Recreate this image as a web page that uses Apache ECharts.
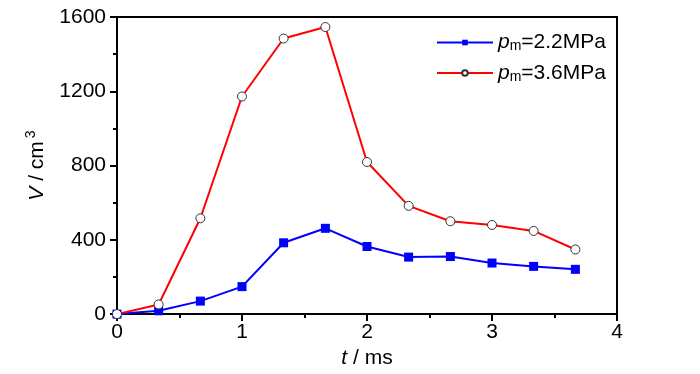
<!DOCTYPE html>
<html>
<head>
<meta charset="utf-8">
<script src="https://cdn.jsdelivr.net/npm/echarts@6/dist/echarts.min.js"></script>
<style>html,body{margin:0;padding:0;background:#fff}#c{width:700px;height:374px}</style>
</head>
<body>
<div id="c"></div>
<script>
var tValues = [0, 0.333, 0.667, 1, 1.333, 1.667, 2, 2.333, 2.667, 3, 3.333, 3.667];
var v22 = [0, 18, 70, 148, 384, 462, 364, 307, 310, 275, 257, 241];
var v36 = [0, 52, 516, 1172, 1484, 1546, 819, 583, 500, 480, 448, 348];
var seriesNames = ['pm=2.2MPa', 'pm=3.6MPa'];
var legendLabels = ['{i|p}{s|m}=2.2MPa', '{i|p}{s|m}=3.6MPa'];
var xTicks = [0, 1, 2, 3, 4];
var yTicks = [0, 400, 800, 1200, 1600];

var FONT = 'Liberation Sans';
function pairs(xs, ys) { return xs.map(function (x, i) { return [x, ys[i]]; }); }

var chart = echarts.init(document.getElementById('c'), null, {renderer: 'canvas'});
chart.setOption({
  animation: false,
  backgroundColor: '#fff',
  textStyle: {fontFamily: FONT},
  grid: {left: 117, right: 83, top: 17, bottom: 58, show: true, borderColor: '#000', borderWidth: 2, backgroundColor: 'transparent'},
  legend: {
    left: 431, top: 27, orient: 'vertical', itemWidth: 56, itemHeight: 7, itemGap: 9,
    data: seriesNames,
    formatter: function (name) { return legendLabels[seriesNames.indexOf(name)]; },
    textStyle: {
      fontFamily: FONT, fontSize: 21, color: '#000',
      rich: {
        i: {fontFamily: FONT, fontSize: 21, fontStyle: 'italic', color: '#000'},
        s: {fontFamily: FONT, fontSize: 14, color: '#000', padding: [8, 0, 0, 0]}
      }
    }
  },
  xAxis: {
    type: 'value', min: xTicks[0], max: xTicks[xTicks.length - 1], interval: 1,
    name: '{i|t} / ms', nameLocation: 'middle', nameGap: 29,
    nameTextStyle: {fontFamily: FONT, fontSize: 21, color: '#000',
      rich: {i: {fontFamily: FONT, fontSize: 21, fontStyle: 'italic', color: '#000'}}},
    axisLine: {show: true, lineStyle: {color: '#000', width: 2}},
    axisTick: {show: true, length: 7, lineStyle: {color: '#000', width: 2}},
    minorTick: {show: true, splitNumber: 2, length: 4, lineStyle: {color: '#000', width: 2}},
    splitLine: {show: false},
    axisLabel: {fontFamily: FONT, fontSize: 21, color: '#000', margin: 8,
      formatter: function (v) { return String(v); }}
  },
  yAxis: {
    type: 'value', min: yTicks[0], max: yTicks[yTicks.length - 1], interval: 400,
    name: '{i|V} / cm{s|3}', nameLocation: 'middle', nameGap: 67, nameRotate: 90,
    nameTextStyle: {fontFamily: FONT, fontSize: 21, color: '#000',
      rich: {
        i: {fontFamily: FONT, fontSize: 21, fontStyle: 'italic', color: '#000'},
        s: {fontFamily: FONT, fontSize: 14, color: '#000', padding: [0, 0, 12, 3]}
      }},
    axisLine: {show: true, lineStyle: {color: '#000', width: 2}},
    axisTick: {show: true, length: 7, lineStyle: {color: '#000', width: 2}},
    minorTick: {show: true, splitNumber: 2, length: 4, lineStyle: {color: '#000', width: 2}},
    splitLine: {show: false},
    axisLabel: {fontFamily: FONT, fontSize: 21, color: '#000', margin: 11,
      formatter: function (v) { return String(v); }}
  },
  series: [
    {
      name: seriesNames[0], type: 'line', data: pairs(tValues, v22),
      symbol: 'rect', symbolSize: 9, showAllSymbol: true,
      lineStyle: {color: '#0000ff', width: 2},
      itemStyle: {color: '#0000ff', borderColor: '#0000ff', borderWidth: 0}
    },
    {
      name: seriesNames[1], type: 'line', data: pairs(tValues, v36),
      symbol: 'circle', symbolSize: 9, showAllSymbol: true,
      lineStyle: {color: '#ff0000', width: 2},
      itemStyle: {color: '#ffffff', borderColor: '#333333', borderWidth: 1}
    }
  ]
});
</script>
</body>
</html>
